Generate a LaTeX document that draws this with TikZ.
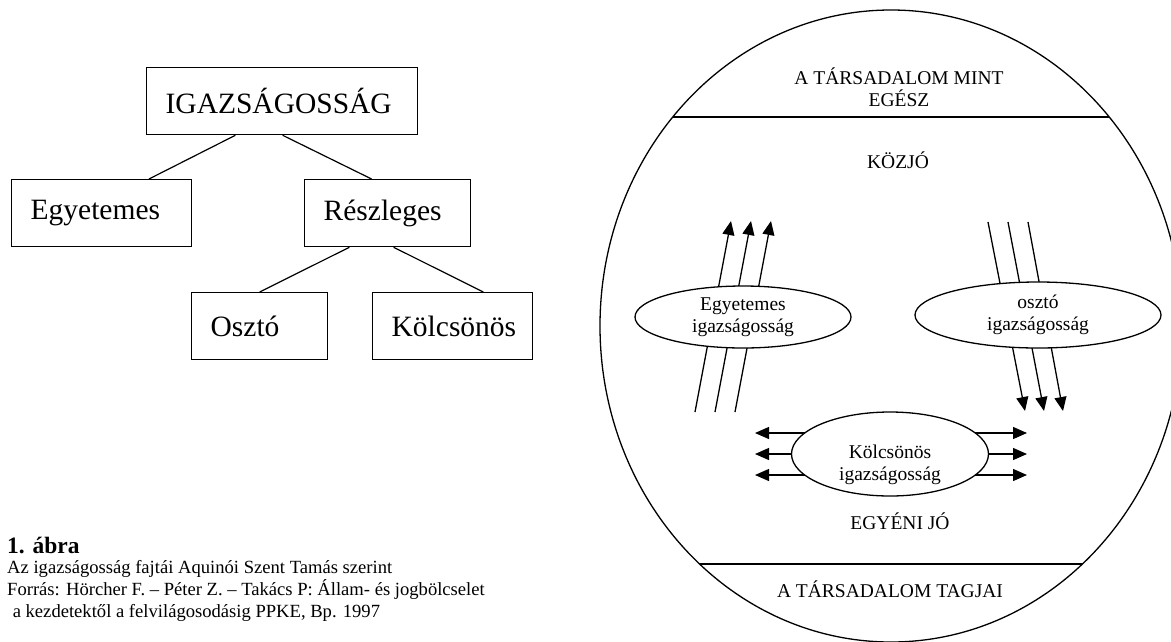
\documentclass[tikz,border=0pt]{standalone}
\usepackage{fontspec}
\setmainfont{Liberation Serif}
\usetikzlibrary{arrows.meta,calc,shapes.geometric}
\pgfdeclarelayer{background}
\pgfsetlayers{background,main}
\begin{document}
\begin{tikzpicture}[x=1pt,y=-1pt,
  tbox/.style={draw, line width=1.3pt, anchor=north west, minimum height=67pt, inner xsep=19pt, align=left, font=\fontsize{29.5}{32}\selectfont},
  conn/.style={line width=1.2pt},
  oval/.style={ellipse, draw, fill=white, line width=1.3pt, align=center, font=\fontsize{19.5}{22}\selectfont, inner sep=0pt},
  lab/.style={align=center, font=\fontsize{19.5}{22}\selectfont},
  captxt/.style={anchor=base west, inner sep=0pt, font=\fontsize{18.6}{22}\selectfont},
  arr/.style={line width=1.3pt, -{Triangle[length=14pt,width=12pt]}},
  ln/.style={line width=1.3pt},
]
\useasboundingbox (0,0) rectangle (1171,641);
% left tree
\node[tbox, text width=233pt] (igaz) at (146,67) {IGAZSÁGOSSÁG};
\node[tbox, text width=142pt] (egy) at (11,179) {Egyetemes};
\node[tbox, text width=128pt] (resz) at (304,179) {Részleges};
\node[tbox, text width=98pt] (oszt) at (191,292) {Osztó};
\node[tbox, text width=122pt] (kolb) at (372,292) {Kölcsönös};
\draw[conn] ($(igaz.south west)!0.328!(igaz.south east)$) -- ($(egy.north west)!0.761!(egy.north east)$);
\draw[conn] ($(igaz.south west)!0.502!(igaz.south east)$) -- ($(resz.north west)!0.404!(resz.north east)$);
\draw[conn] ($(resz.south west)!0.271!(resz.south east)$) -- ($(oszt.north west)!0.5!(oszt.north east)$);
\draw[conn] ($(resz.south west)!0.536!(resz.south east)$) -- ($(kolb.north west)!0.69!(kolb.north east)$);
% caption
\node[anchor=base west, inner sep=0pt, font=\fontsize{23.5}{26}\bfseries\selectfont] (abra) at (7,553) {1. ábra};
\node[captxt] (cap1) at (7,573) {Az igazságosság fajtái Aquinói Szent Tamás szerint};
\node[captxt] (cap2) at (7,595) {Forrás: Hörcher F. – Péter Z. – Takács P: Állam- és jogbölcselet};
\node[captxt] (cap3) at (7,617) {\hspace*{0.3em}a kezdetektől a felvilágosodásig PPKE, Bp. 1997};
% big ellipse
\draw[ln] (891,326) ellipse [x radius=291pt, y radius=316pt];
\begin{scope}
  \clip (891,326) ellipse [x radius=291pt, y radius=316pt];
  \draw[ln] (500,117) -- (1300,117);
  \draw[ln] (500,564) -- (1300,564);
\end{scope}
\node[lab] (whole) at (899,87) {A TÁRSADALOM MINT\\EGÉSZ};
\node[lab] (kozjo) at (898,160) {KÖZJÓ};
\node[lab] (egyeni) at (900,521) {EGYÉNI JÓ};
\node[lab] (tagok) at (890,589) {A TÁRSADALOM TAGJAI};
% inner ellipses
\node[oval, minimum width=216pt, minimum height=62pt] (egyig) at (743,317) {Egyetemes\\igazságosság};
\node[oval, minimum width=246pt, minimum height=66pt] (osztig) at (1038,315) {osztó\\igazságosság};
\node[oval, minimum width=197pt, minimum height=84pt] (kolcs) at (890,454) {};
\node[lab] (kolcstxt) at (890,465) {Kölcsönös\\igazságosság};
% free ends
\coordinate (u1a) at (695,412); \coordinate (u1b) at (731,221);
\coordinate (u2a) at (715,412); \coordinate (u2b) at (751,221);
\coordinate (u3a) at (735,412); \coordinate (u3b) at (771,221);
\coordinate (d1a) at (988,222); \coordinate (d1b) at (1025,411);
\coordinate (d2a) at (1008,222); \coordinate (d2b) at (1044,411);
\coordinate (d3a) at (1028,222); \coordinate (d3b) at (1063,411);
\coordinate (l1) at (755,433); \coordinate (r1) at (1027,433);
\coordinate (l2) at (755,454); \coordinate (r2) at (1027,454);
\coordinate (l3) at (755,475); \coordinate (r3) at (1027,475);
\begin{pgfonlayer}{background}
  \draw[arr] (u1a) -- (u1b);
  \draw[arr] (u2a) -- (u2b);
  \draw[arr] (u3a) -- (u3b);
  \draw[arr] (d1a) -- (d1b);
  \draw[arr] (d2a) -- (d2b);
  \draw[arr] (d3a) -- (d3b);
  \draw[arr] (kolcs.center |- l1) -- (l1);
  \draw[arr] (kolcs.center |- l2) -- (l2);
  \draw[arr] (kolcs.center |- l3) -- (l3);
  \draw[arr] (kolcs.center |- r1) -- (r1);
  \draw[arr] (kolcs.center |- r2) -- (r2);
  \draw[arr] (kolcs.center |- r3) -- (r3);
\end{pgfonlayer}
\end{tikzpicture}
\end{document}
